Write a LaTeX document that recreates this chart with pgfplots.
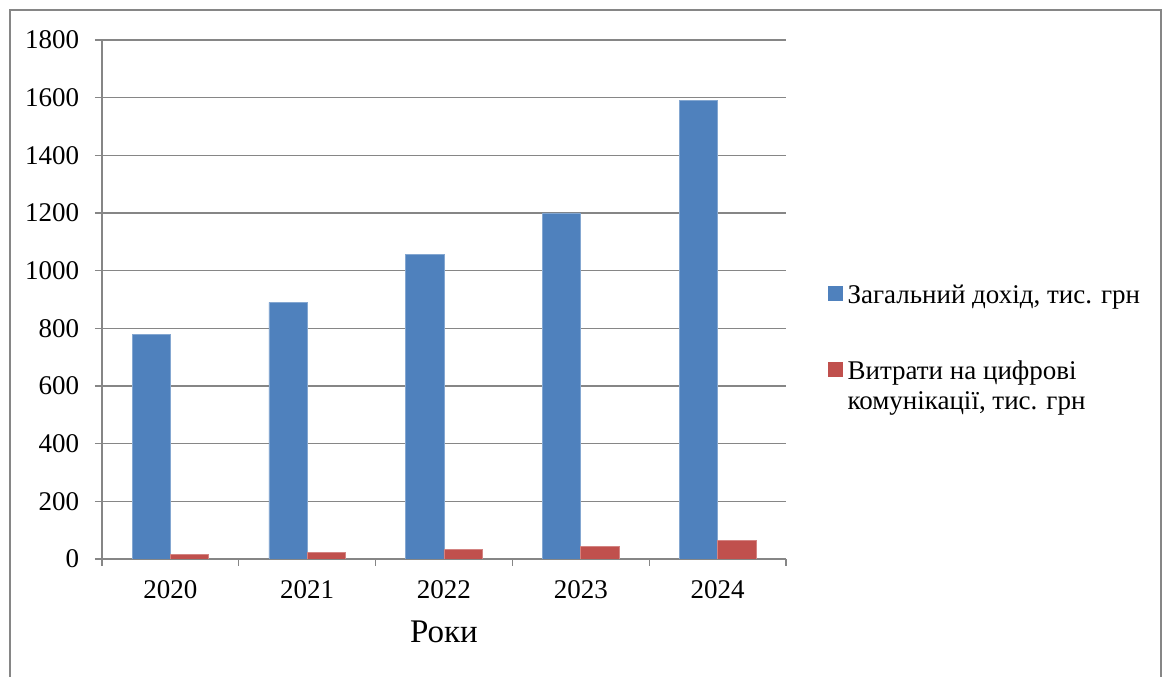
\documentclass[border=0pt]{standalone}
\usepackage{pgfplots}
\pgfplotsset{compat=1.18}
\usepackage{fontspec}
\setmainfont{Liberation Serif}
\definecolor{cblue}{RGB}{79,129,189}
\definecolor{cred}{RGB}{192,80,77}
\definecolor{cgray}{RGB}{134,134,134}
\begin{document}
\begin{tikzpicture}
\useasboundingbox (0,0) rectangle (524.25pt,304.65pt);
\draw[cgray, line width=0.7pt] (4.5pt,-5pt) rectangle (522.45pt,300.15pt);
\begin{axis}[
  scale only axis,
  width=307.8pt, height=233.55pt,
  at={(45.9pt,53.1pt)}, anchor=south west,
  xmin=-0.5, xmax=4.5, ymin=0, ymax=1800,
  axis x line*=bottom, axis y line*=left,
  axis line style={cgray, line width=0.6pt, -},
  xtick={-0.5,0.5,...,4.5}, xticklabels={},
  extra x ticks={0,1,2,3,4},
  extra x tick labels={2020,2021,2022,2023,2024},
  extra x tick style={major tick length=0pt, grid=none,
    xticklabel style={yshift=-6.3pt}},
  ytick={0,200,...,1800},
  yticklabel style={xshift=-3.6pt},
  tick align=outside,
  major tick length=3.15pt,
  tick style={cgray, line width=0.6pt},
  ymajorgrids, grid style={cgray, line width=0.6pt},
  /pgf/number format/assume math mode=true,
  /pgf/number format/1000 sep={},
  tick label style={font=\fontsize{12.15}{14}\selectfont, black},
  xlabel={Роки},
  xlabel style={font=\fontsize{14.85}{16}\selectfont},
  legend style={at={(1.0614,0.5373)}, anchor=north west, draw=none, fill=none,
    inner sep=0pt, row sep=20.45pt, font=\fontsize{12.15}{13.2}\selectfont,
    cells={align=left}},
  legend cell align=left,
]
\addplot[ybar, bar width=0.28, bar shift=-0.14, fill=cblue, draw=cblue!70!white, line width=0.3pt,
  legend image code/.code={\fill[cblue] (0pt,-1.8pt) rectangle (6.3pt,4.5pt);}]
  coordinates {(0,780) (1,890) (2,1055) (3,1200) (4,1590)};
\addlegendentry{Загальний дохід, тис. грн}
\addplot[ybar, bar width=0.28, bar shift=0.14, fill=cred, draw=cred!70!white, line width=0.3pt,
  legend image code/.code={\fill[cred] (0pt,4.95pt) rectangle (6.3pt,11.25pt);}]
  coordinates {(0,15) (1,23) (2,32) (3,45) (4,63)};
\addlegendentry{Витрати на цифрові\\комунікації, тис. грн}
\end{axis}
\end{tikzpicture}
\end{document}
